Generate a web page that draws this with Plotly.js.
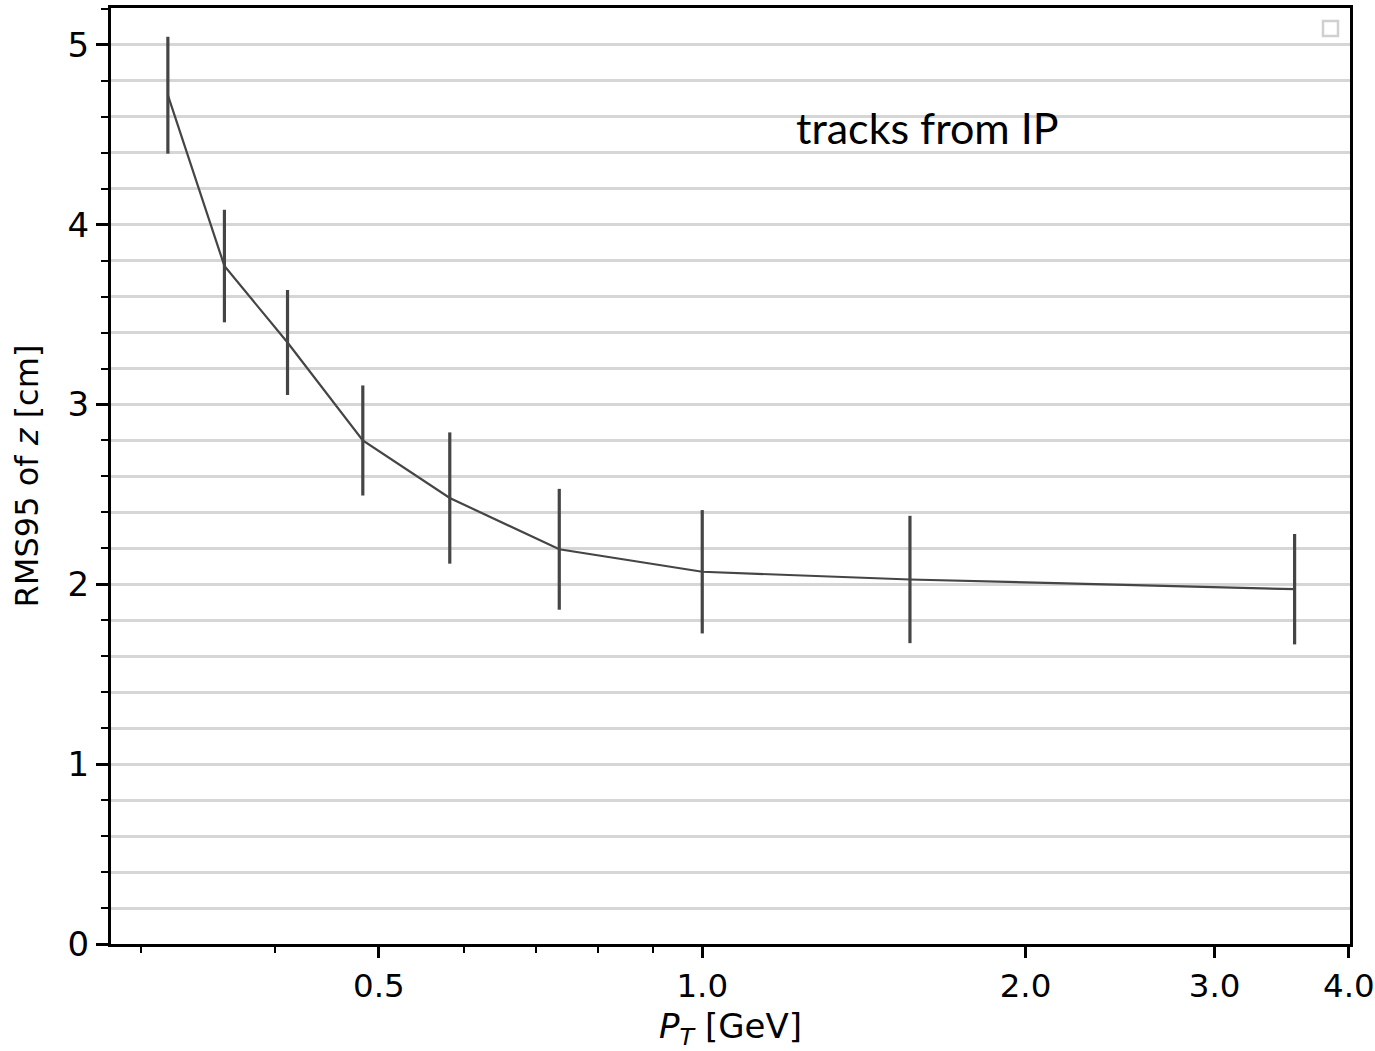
<!DOCTYPE html>
<html>
<head>
<meta charset="utf-8">
<script src="https://cdn.plot.ly/plotly-3.0.1.min.js"></script>
<style>html,body{margin:0;padding:0;background:#fff;}#chart{width:1375px;height:1051px;}</style>
</head>
<body>
<div id="chart"></div>
<script>
// P_T bin centres [GeV]
const ptValues = [0.318, 0.359, 0.411, 0.483, 0.582, 0.736, 1.0, 1.561, 3.561];
// RMS95 of z [cm]
const rmsValues = [4.72, 3.77, 3.345, 2.80, 2.48, 2.195, 2.07, 2.027, 1.973];
// symmetric errors [cm]
const rmsErrors = [0.325, 0.313, 0.292, 0.306, 0.365, 0.336, 0.343, 0.354, 0.307];
// axis ticks
const xTickVals = [0.5, 1.0, 2.0, 3.0, 4.0];
const xTickText = ["0.5", "1.0", "2.0", "3.0", "4.0"];
const xMinorVals = [0.3, 0.4, 0.6, 0.7, 0.8, 0.9];
const yTickVals = [0, 1, 2, 3, 4, 5];
const annotationText = "tracks from IP";

const trace = {
  x: ptValues,
  y: rmsValues,
  type: 'scatter',
  mode: 'lines',
  line: {color: '#454545', width: 2.2},
  error_y: {type: 'data', array: rmsErrors, visible: true, color: '#454545', thickness: 3.2, width: 0},
  showlegend: false,
  hoverinfo: 'x+y'
};

const layout = {
  width: 1375,
  height: 1051,
  paper_bgcolor: '#ffffff',
  plot_bgcolor: '#ffffff',
  margin: {l: 111, r: 25, t: 8, b: 107, pad: 0},
  font: {family: 'DejaVu Sans', size: 34, color: '#000'},
  xaxis: {
    type: 'log',
    range: [Math.log10(0.2815), Math.log10(4.01)],
    tickmode: 'array',
    tickvals: xTickVals,
    ticktext: xTickText,
    ticks: 'outside',
    ticklen: 11,
    tickwidth: 3,
    tickcolor: '#000',
    showgrid: false,
    zeroline: false,
    showline: true,
    linecolor: '#000',
    linewidth: 3,
    mirror: true,
    tickfont: {family: 'DejaVu Sans', size: 32.5, color: '#000'},
    minor: {tickmode: 'array', tickvals: xMinorVals, ticks: 'outside', ticklen: 6, tickwidth: 2, tickcolor: '#000', showgrid: false},
    title: {text: '<i>P</i><sub><i>T</i></sub> [GeV]', font: {family: 'DejaVu Sans', size: 34, color: '#000'}, standoff: 12},
    automargin: false
  },
  yaxis: {
    range: [0, 5.205],
    tickmode: 'array',
    tickvals: yTickVals,
    ticks: 'outside',
    ticklen: 12,
    tickwidth: 3,
    tickcolor: '#000',
    showgrid: true,
    gridcolor: '#d6d6d6',
    gridwidth: 3,
    zeroline: false,
    showline: true,
    linecolor: '#000',
    linewidth: 3,
    mirror: true,
    tickfont: {family: 'DejaVu Sans', size: 34, color: '#000'},
    minor: {dtick: 0.2, tick0: 0, ticks: 'outside', ticklen: 7, tickwidth: 2, tickcolor: '#000', showgrid: true, gridcolor: '#d6d6d6', gridwidth: 3},
    title: {text: 'RMS95 of <i>z</i> [cm]', font: {family: 'DejaVu Sans', size: 32, color: '#000'}, standoff: 20},
    automargin: false
  },
  annotations: [{
    text: annotationText,
    xref: 'paper', yref: 'paper',
    x: 0.659, y: 0.872,
    xanchor: 'center', yanchor: 'middle',
    showarrow: false,
    font: {family: 'Lato', size: 43, color: '#000'}
  }],
  shapes: [{
    type: 'rect',
    xref: 'paper', yref: 'paper',
    xsizemode: 'pixel', ysizemode: 'pixel',
    xanchor: 1, yanchor: 1,
    x0: -27, x1: -12, y0: -13, y1: -28,
    line: {color: '#d0d0d0', width: 2.5},
    fillcolor: 'rgba(0,0,0,0)'
  }]
};

Plotly.newPlot('chart', [trace], layout, {displayModeBar: false, staticPlot: true});
</script>
</body>
</html>
